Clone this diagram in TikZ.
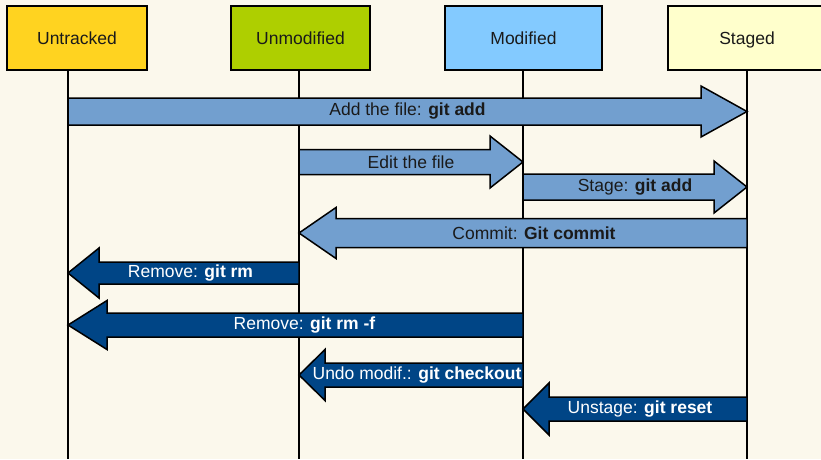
\documentclass[tikz,border=0pt]{standalone}
\usepackage{fontspec}
\setmainfont{Liberation Sans}
\usetikzlibrary{calc}
\definecolor{paper}{HTML}{FBF8EC}
\definecolor{untrackedbg}{HTML}{FFD320}
\definecolor{unmodifiedbg}{HTML}{AECF00}
\definecolor{modifiedbg}{HTML}{83CAFF}
\definecolor{stagedbg}{HTML}{FFFFCC}
\definecolor{forward}{HTML}{729FCF}
\definecolor{backward}{HTML}{004586}
\definecolor{inktext}{HTML}{1A1A1A}

% block arrow from one lifeline to another:
% #1 style, #2 tail, #3 tip, #4 y, #5 half shaft, #6 half head, #7 head length, #8 label options, #9 text
\newcommand{\gitstep}[9]{%
  \path[#1] let \p1=(#2 |- 0,#4), \p2=(#3 |- 0,#4),
    \n1={ifthenelse(\x2>\x1,1,-1)*#7} in
    (\x1,\y1+#5) -- (\x2-\n1,\y1+#5) -- (\x2-\n1,\y1+#6) -- (\x2,\y1)
    -- (\x2-\n1,\y1-#6) -- (\x2-\n1,\y1-#5) -- (\x1,\y1-#5) -- cycle
    ({(\x1+\x2)/2},\y1) node[steplabel, #8] {#9};
}

\tikzset{
  statebox/.style={draw=black, line width=1.5pt, minimum height=64, inner sep=0pt,
    text height=12.5pt, text depth=0.5pt,
    font=\fontsize{17.5}{20}\selectfont, text=inktext},
  lifeline/.style={draw=black, line width=1.5pt},
  fwdstep/.style={draw=black, line width=1.5pt, fill=forward, text=inktext},
  backstep/.style={draw=black, line width=1.5pt, fill=backward, text=white},
  steplabel/.style={font=\fontsize{17.5}{20}\selectfont, inner sep=0pt}
}

\begin{document}
\begin{tikzpicture}[x=1pt, y=-1pt]
  \fill[paper] (0,0) rectangle (821,459);
  \useasboundingbox (0,0) rectangle (821,459);
  \clip (0,0) rectangle (821,459);

  % the four states
  \node[statebox, fill=untrackedbg, minimum width=140] (untracked) at (77,38) {Untracked};
  \node[statebox, fill=unmodifiedbg, minimum width=139] (unmodified) at (300.5,38) {Unmodified};
  \node[statebox, fill=modifiedbg, minimum width=157] (modified) at (523.5,38) {Modified};
  \node[statebox, fill=stagedbg, minimum width=158] (staged) at (747,38) {Staged};

  % lifelines
  \coordinate (untracked-l) at (68,70);
  \coordinate (unmodified-l) at (299,70);
  \coordinate (modified-l) at (523,70);
  \coordinate (staged-l) at (747,70);
  \foreach \s in {untracked,unmodified,modified,staged}
    \draw[lifeline] (\s-l) -- (\s-l |- 0,459);

  % forward steps
  \gitstep{fwdstep}{untracked-l}{staged-l}{111.5}{13.5}{25.5}{46}{name=add}{Add the file: \textbf{git add}}
  \gitstep{fwdstep}{unmodified-l}{modified-l}{162}{12.5}{26}{33}{name=edit}{Edit the file}
  \gitstep{fwdstep}{modified-l}{staged-l}{187}{13}{26}{33}{name=stage}{Stage: \textbf{git add}}
  \gitstep{fwdstep}{staged-l}{unmodified-l}{233}{14.5}{25.5}{37}{name=commit, xshift=11}{Commit: \textbf{Git commit}}

  % backward steps
  \gitstep{backstep}{unmodified-l}{untracked-l}{273}{11}{25}{31}{name=rm, xshift=7}{Remove: \textbf{git rm}}
  \gitstep{backstep}{modified-l}{untracked-l}{325}{12}{24.5}{39}{name=rmf, xshift=9}{Remove: \textbf{git rm -f}}
  \gitstep{backstep}{modified-l}{unmodified-l}{375}{12}{25.5}{26}{name=checkout, xshift=6}{Undo modif.: \textbf{git checkout}}
  \gitstep{backstep}{staged-l}{modified-l}{409}{12}{26}{26}{name=reset, xshift=5}{Unstage: \textbf{git reset}}
\end{tikzpicture}
\end{document}
